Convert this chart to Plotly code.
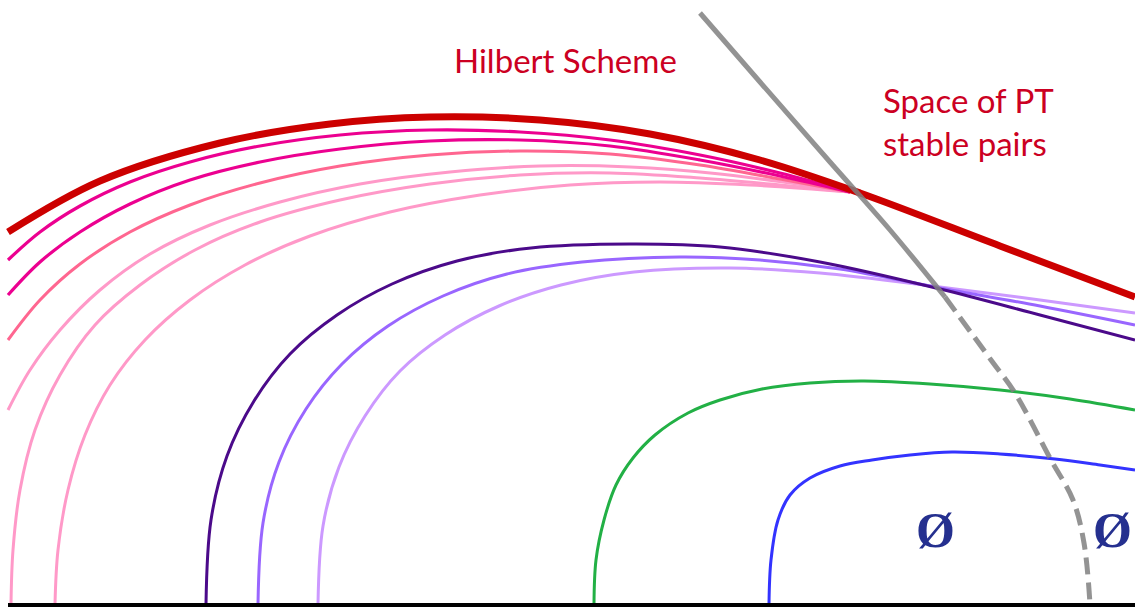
import plotly.graph_objects as go

# ---- data (pixel-space control points of the schematic curves) ----
red_x = [8, 100, 220, 330, 430, 540, 650, 760, 860, 1000, 1135]
red_y = [232, 181, 143, 124, 117, 120, 134, 160, 193, 246, 297]

mag1_x = [8, 40, 80, 130, 190, 260, 340, 430, 520, 610, 700, 780, 850]
mag1_y = [260, 232, 206, 182, 162, 146, 135, 130, 132, 140, 155, 173, 192]
mag2_x = [8, 40, 80, 130, 190, 260, 340, 430, 520, 610, 700, 780, 850]
mag2_y = [295, 262, 232, 204, 180, 162, 149, 141, 140, 146, 160, 176, 192]
rose_x = [8, 40, 80, 130, 190, 260, 340, 430, 520, 610, 700, 780, 850]
rose_y = [340, 300, 264, 232, 205, 183, 166, 155, 151, 154, 165, 179, 192]
pink1_x = [8, 30, 60, 100, 150, 210, 280, 360, 450, 540, 630, 720, 790, 850]
pink1_y = [410, 370, 330, 290, 254, 225, 202, 184, 172, 166, 167, 174, 183, 192]
pink2_x = [11, 13, 20, 35, 60, 95, 140, 195, 260, 340, 430, 520, 610, 700, 780, 850]
pink2_y = [604, 550, 490, 430, 375, 325, 285, 250, 222, 200, 184, 175, 173, 178, 185, 192]
pink3_x = [55, 58, 68, 85, 110, 145, 190, 245, 310, 390, 480, 570, 660, 750, 850]
pink3_y = [604, 550, 490, 435, 385, 340, 300, 265, 236, 212, 195, 185, 182, 185, 192]

dpur_x = [206, 211, 227, 254, 290, 337, 392, 457, 531, 630, 720, 820, 940, 1040, 1135]
dpur_y = [604, 520, 456, 401, 354, 315, 284, 261, 248, 244, 247, 262, 289, 315, 340]
mpur_x = [258, 263, 279, 306, 342, 388, 443, 507, 582, 680, 760, 840, 940, 1040, 1135]
mpur_y = [604, 523, 462, 409, 364, 326, 296, 274, 262, 257, 260, 269, 288, 306, 325]
lpur_x = [318, 323, 339, 365, 400, 445, 499, 561, 634, 730, 820, 940, 1040, 1135]
lpur_y = [604, 526, 467, 416, 371, 335, 306, 285, 272, 268, 273, 287, 300, 313]

green_x = [594, 596, 604, 616, 633, 655, 688, 720, 762, 810, 864, 930, 1000, 1070, 1135]
green_y = [604, 560, 520, 485, 458, 435, 413, 400, 389, 383, 381, 384, 390, 399, 410]
blue_x = [769, 771, 778, 790, 810, 840, 872, 910, 952, 1000, 1055, 1100, 1135]
blue_y = [604, 560, 520, 495, 478, 466, 460, 455, 452, 454, 459, 465, 470]

gray_solid_x = [700, 760, 830, 890, 945]
gray_solid_y = [13, 82, 162, 230, 297]
gray_dash_x = [945, 991, 1015, 1051, 1073, 1084, 1090]
gray_dash_y = [297, 360, 393, 460, 500, 543, 604]

labels = ["Hilbert Scheme", "Space of PT<br>stable pairs"]
empty_sym = "Ø"
empty_x = [935, 1112]

fig = go.Figure()

def add(x, y, color, width, dash="solid"):
    fig.add_trace(go.Scatter(x=x, y=y, mode="lines",
                             line=dict(color=color, width=width, shape="spline",
                                       smoothing=1.0, dash=dash),
                             hoverinfo="skip", showlegend=False))

# pink family (under the red)
add(pink3_x, pink3_y, "#ff99c8", 3)
add(pink2_x, pink2_y, "#ff99c8", 3)
add(pink1_x, pink1_y, "#ff99c8", 3)
add(rose_x, rose_y, "#ff6690", 3)
add(mag2_x, mag2_y, "#ec0090", 3.2)
add(mag1_x, mag1_y, "#ec0090", 3.2)
add(red_x, red_y, "#cc0000", 7)

# purple family
add(lpur_x, lpur_y, "#cc99ff", 3)
add(mpur_x, mpur_y, "#9966ff", 3)
add(dpur_x, dpur_y, "#4b0a8a", 3)

add(green_x, green_y, "#22b045", 3)
add(blue_x, blue_y, "#3333ff", 3)

# baseline
add([8, 1135], [605, 605], "#000000", 4)

# gray wall
add(gray_solid_x, gray_solid_y, "rgba(128,128,128,0.85)", 5)
add(gray_dash_x, gray_dash_y, "rgba(128,128,128,0.85)", 5, dash="17px,8px")

fig.add_annotation(x=565, y=60, text=labels[0], showarrow=False,
                   font=dict(family="Lato", size=33, color="#cc0022"),
                   xanchor="center", yanchor="middle")
fig.add_annotation(x=881, y=121, text=labels[1], showarrow=False, align="left",
                   font=dict(family="Lato", size=33, color="#cc0022"),
                   xanchor="left", yanchor="middle")
for sx in empty_x:
    fig.add_annotation(x=sx, y=530, text="<b>" + empty_sym + "</b>", showarrow=False,
                       font=dict(family="Liberation Serif", size=50, color="#25308f"),
                       xanchor="center", yanchor="middle")

fig.update_layout(width=1135, height=607, margin=dict(l=0, r=0, t=0, b=0),
                  paper_bgcolor="white", plot_bgcolor="white",
                  xaxis=dict(range=[0, 1135], visible=False, fixedrange=True),
                  yaxis=dict(range=[607, 0], visible=False, fixedrange=True))

fig.write_html("out.html", config={"displayModeBar": False},
               post_script="document.body.style.margin='0';document.body.style.overflow='hidden';")
